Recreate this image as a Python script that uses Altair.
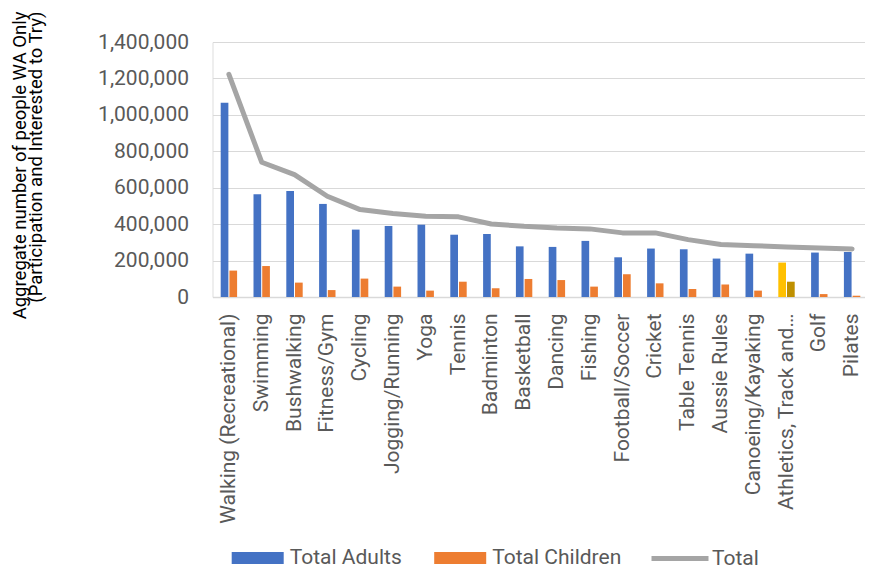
import altair as alt
import pandas as pd

sports = ["Walking (Recreational)", "Swimming", "Bushwalking", "Fitness/Gym", "Cycling",
          "Jogging/Running", "Yoga", "Tennis", "Badminton", "Basketball", "Dancing",
          "Fishing", "Football/Soccer", "Cricket", "Table Tennis", "Aussie Rules",
          "Canoeing/Kayaking", "Athletics, Track and Field", "Golf", "Pilates"]
adults = [1066000, 564000, 582000, 511000, 370000, 390000, 397000, 342000, 346000, 278000,
          275000, 308000, 218000, 266000, 262000, 211000, 238000, 189000, 244000, 247000]
children = [145000, 170000, 79000, 38000, 101000, 57000, 35000, 84000, 48000, 99000,
            93000, 57000, 125000, 75000, 44000, 68000, 35000, 84000, 16000, 7000]
totals = [1222000, 740000, 672000, 553000, 480000, 458000, 443000, 440000, 401000, 388000,
          379000, 374000, 352000, 352000, 315000, 288000, 282000, 275000, 269000, 264000]
series_names = ["Total Adults", "Total Children"]
y_ticks = [0, 200000, 400000, 600000, 800000, 1000000, 1200000, 1400000]
highlight = "Athletics, Track and Field"

BLUE, ORANGE, GRAY = "#4472C4", "#ED7D31", "#A5A5A5"
GOLD, DARKGOLD = "#FFC000", "#BF9000"
TXT = "#595959"

bar_df = pd.DataFrame({
    "Sport": sports * 2,
    "Series": [series_names[0]] * len(sports) + [series_names[1]] * len(sports),
    "Value": adults + children,
})
line_df = pd.DataFrame({"Sport": sports, "Series": ["Total"] * len(sports), "Value": totals})

x_axis = alt.Axis(
    title=None, labelAngle=-90, labelFontSize=21, labelColor=TXT, labelPadding=16,
    labelLimit=400, ticks=False, domainColor="#D9D9D9", domainWidth=1.5,
    labelExpr=f"datum.label == '{highlight}' ? 'Athletics, Track and…' : datum.label",
)
y_axis = alt.Axis(
    values=y_ticks, format=",.0f", labelFontSize=21, labelColor=TXT, labelPadding=24,
    labelOverlap=False, domain=False, ticks=False, gridColor="#D9D9D9", gridWidth=1,
    title=["Aggregate number of people WA Only", "(Participation and Interested to Try)"],
    titleFontSize=18.5, titleFontWeight="normal", titleColor="#000000", titleLineHeight=16,
    titleAlign="right", titleBaseline="bottom", titleX=-183, titleY=-31,
)
xscale = alt.Scale(paddingInner=0.5, paddingOuter=0.25)
yscale = alt.Scale(domain=[0, 1400000])

bars = alt.Chart(bar_df).mark_bar().encode(
    x=alt.X("Sport:N", sort=sports, scale=xscale, axis=x_axis),
    xOffset=alt.XOffset("Series:N", sort=series_names, scale=alt.Scale(paddingInner=0.12)),
    y=alt.Y("Value:Q", scale=yscale, axis=y_axis),
    color=alt.Color(
        "Series:N",
        scale=alt.Scale(domain=series_names, range=[BLUE, ORANGE]),
        legend=alt.Legend(
            orient="none", legendX=19.2, legendY=490, direction="horizontal", title=None,
            symbolType="M-1,-0.23H1V0.23H-1Z", symbolSize=2704, symbolStrokeWidth=0,
            labelFontSize=21, labelColor=TXT, labelOffset=6, columnPadding=31.5, padding=0,
        ),
        condition=[
            {"test": f"datum.Sport == '{highlight}' && datum.Series == 'Total Adults'", "value": GOLD},
            {"test": f"datum.Sport == '{highlight}' && datum.Series == 'Total Children'", "value": DARKGOLD},
        ],
    ),
)

line = alt.Chart(line_df).mark_line(strokeWidth=5, strokeCap="round", strokeJoin="round").encode(
    x=alt.X("Sport:N", sort=sports, scale=xscale, axis=x_axis),
    y=alt.Y("Value:Q", scale=yscale, axis=y_axis),
    stroke=alt.Stroke(
        "Series:N",
        scale=alt.Scale(domain=["Total"], range=[GRAY]),
        legend=alt.Legend(
            orient="none", legendX=436.5, legendY=485.5, title=None,
            symbolType="stroke", symbolSize=3249, symbolStrokeWidth=5,
            labelFontSize=21, labelColor=TXT, labelOffset=1, padding=0,
        ),
    ),
)

chart = alt.layer(bars, line).properties(
    width=656, height=255,
    autosize=alt.AutoSizeParams(type="none"),
    padding={"left": 204.5, "top": 34, "right": -3.5, "bottom": 271},
).configure_view(stroke=None).configure(font="Roboto")

chart.save("out.html", embed_options={"renderer": "svg", "actions": False})
